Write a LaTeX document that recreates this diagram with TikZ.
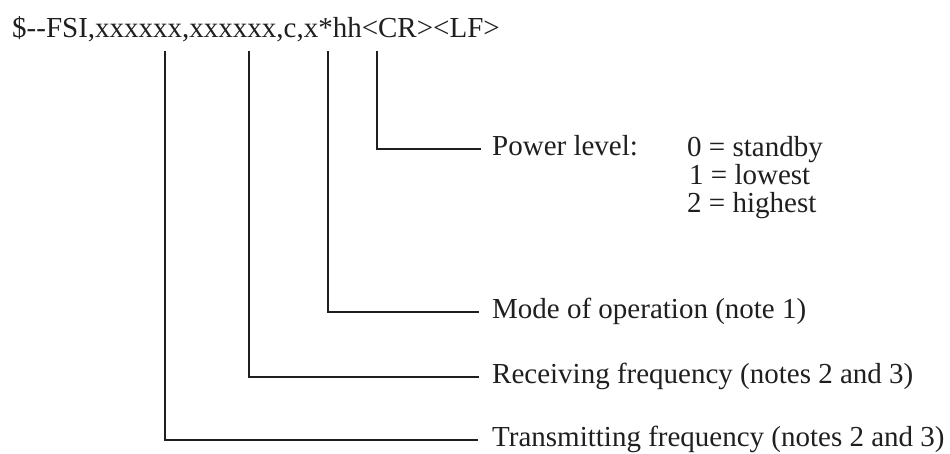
\documentclass[tikz,border=0pt]{standalone}
\usepackage{fontspec}
\setmainfont{Liberation Serif}
\begin{document}
\begin{tikzpicture}[x=1pt,y=-1pt,
  ink/.style={draw=black!88, line width=1.6pt, line cap=rect},
  lbl/.style={text=black!88, font=\fontsize{29}{34}\selectfont, inner ysep=0pt, inner xsep=0pt, text height=13pt, text depth=0pt, anchor=west},
  txt/.style={text=black!88, font=\fontsize{29}{34}\selectfont, inner sep=0pt, anchor=base west}]
\useasboundingbox (0,0) rectangle (950,453);
% header sentence
\node[txt] (hdr) at (12,37) {\$-\kern0pt-FSI,xxxxxx,xxxxxx,c,x*hh<CR><LF>};
% tops of the connectors under the header
\coordinate (tTx) at (165,52);
\coordinate (tRx) at (249,52);
\coordinate (tMode) at (328,52);
\coordinate (tPow) at (377,52);
% labels (west anchor sits on the connector line)
\node[lbl] (pow) at (480,149) {\hspace{12pt}Power level:};
\node[lbl] (mode) at (478,312) {\hspace{14pt}Mode of operation (note 1)};
\node[lbl] (rx) at (478,377) {\hspace{14pt}Receiving frequency (notes 2 and 3)};
\node[lbl] (tx) at (477,440) {\hspace{15pt}Transmitting frequency (notes 2 and 3)};
% power level values
\node[txt] (v0) at (687,156) {0 = standby};
\node[txt] (v1) at (689,184) {1 = lowest};
\node[txt] (v2) at (687,212) {2 = highest};
% connectors
\draw[ink] (tPow) |- (pow.west);
\draw[ink] (tMode) |- (mode.west);
\draw[ink] (tRx) |- (rx.west);
\draw[ink] (tTx) |- (tx.west);
\end{tikzpicture}
\end{document}
